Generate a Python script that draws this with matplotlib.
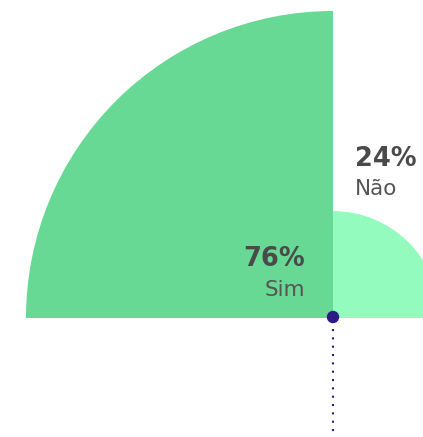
import matplotlib.pyplot as plt
from matplotlib.patches import Wedge, Circle

labels = ['Sim', 'Não']
values = [76, 24]
colors = ['#68D895', '#94FBBF']

W, H = 423, 437
cx, cy = 333, 318          # center of the quarter circles (pixels)
r_max = 307


def radius(v):
    # radius scale fitted to the picture
    return r_max * (v / max(values)) ** 0.915


fig = plt.figure(figsize=(W / 100, H / 100), dpi=100)
ax = fig.add_axes([0, 0, 1, 1])
ax.set_xlim(0, W)
ax.set_ylim(H, 0)
ax.axis('off')

# Sim -> upper left quarter, Não -> upper right quarter (y axis is inverted)
angles = [(180, 270), (270, 360)]
for v, c, (a1, a2) in zip(values, colors, angles):
    ax.add_patch(Wedge((cx, cy), radius(v), a1, a2, facecolor=c, edgecolor='none'))

# pointer
ax.plot([cx, cx], [329, 433], color='#2E1A87', lw=1.5,
        linestyle=(0, (1, 3)), dash_capstyle='butt')
ax.add_patch(Circle((cx, cy - 1), 5.5, color='#2E1A87', zorder=5))

font = 'DejaVu Sans'
txt = '#4A4A4A'
ax.text(305, 266, f'{values[0]}%', ha='right', va='baseline', fontsize=18.5,
        fontweight='bold', color=txt, family=font)
ax.text(305, 296, labels[0], ha='right', va='baseline', fontsize=15.5,
        color='#555555', family=font)
ax.text(355, 166, f'{values[1]}%', ha='left', va='baseline', fontsize=18.5,
        fontweight='bold', color=txt, family=font)
ax.text(355, 195, labels[1], ha='left', va='baseline', fontsize=15.5,
        color='#555555', family=font)

fig.savefig('out.png', dpi=100)
